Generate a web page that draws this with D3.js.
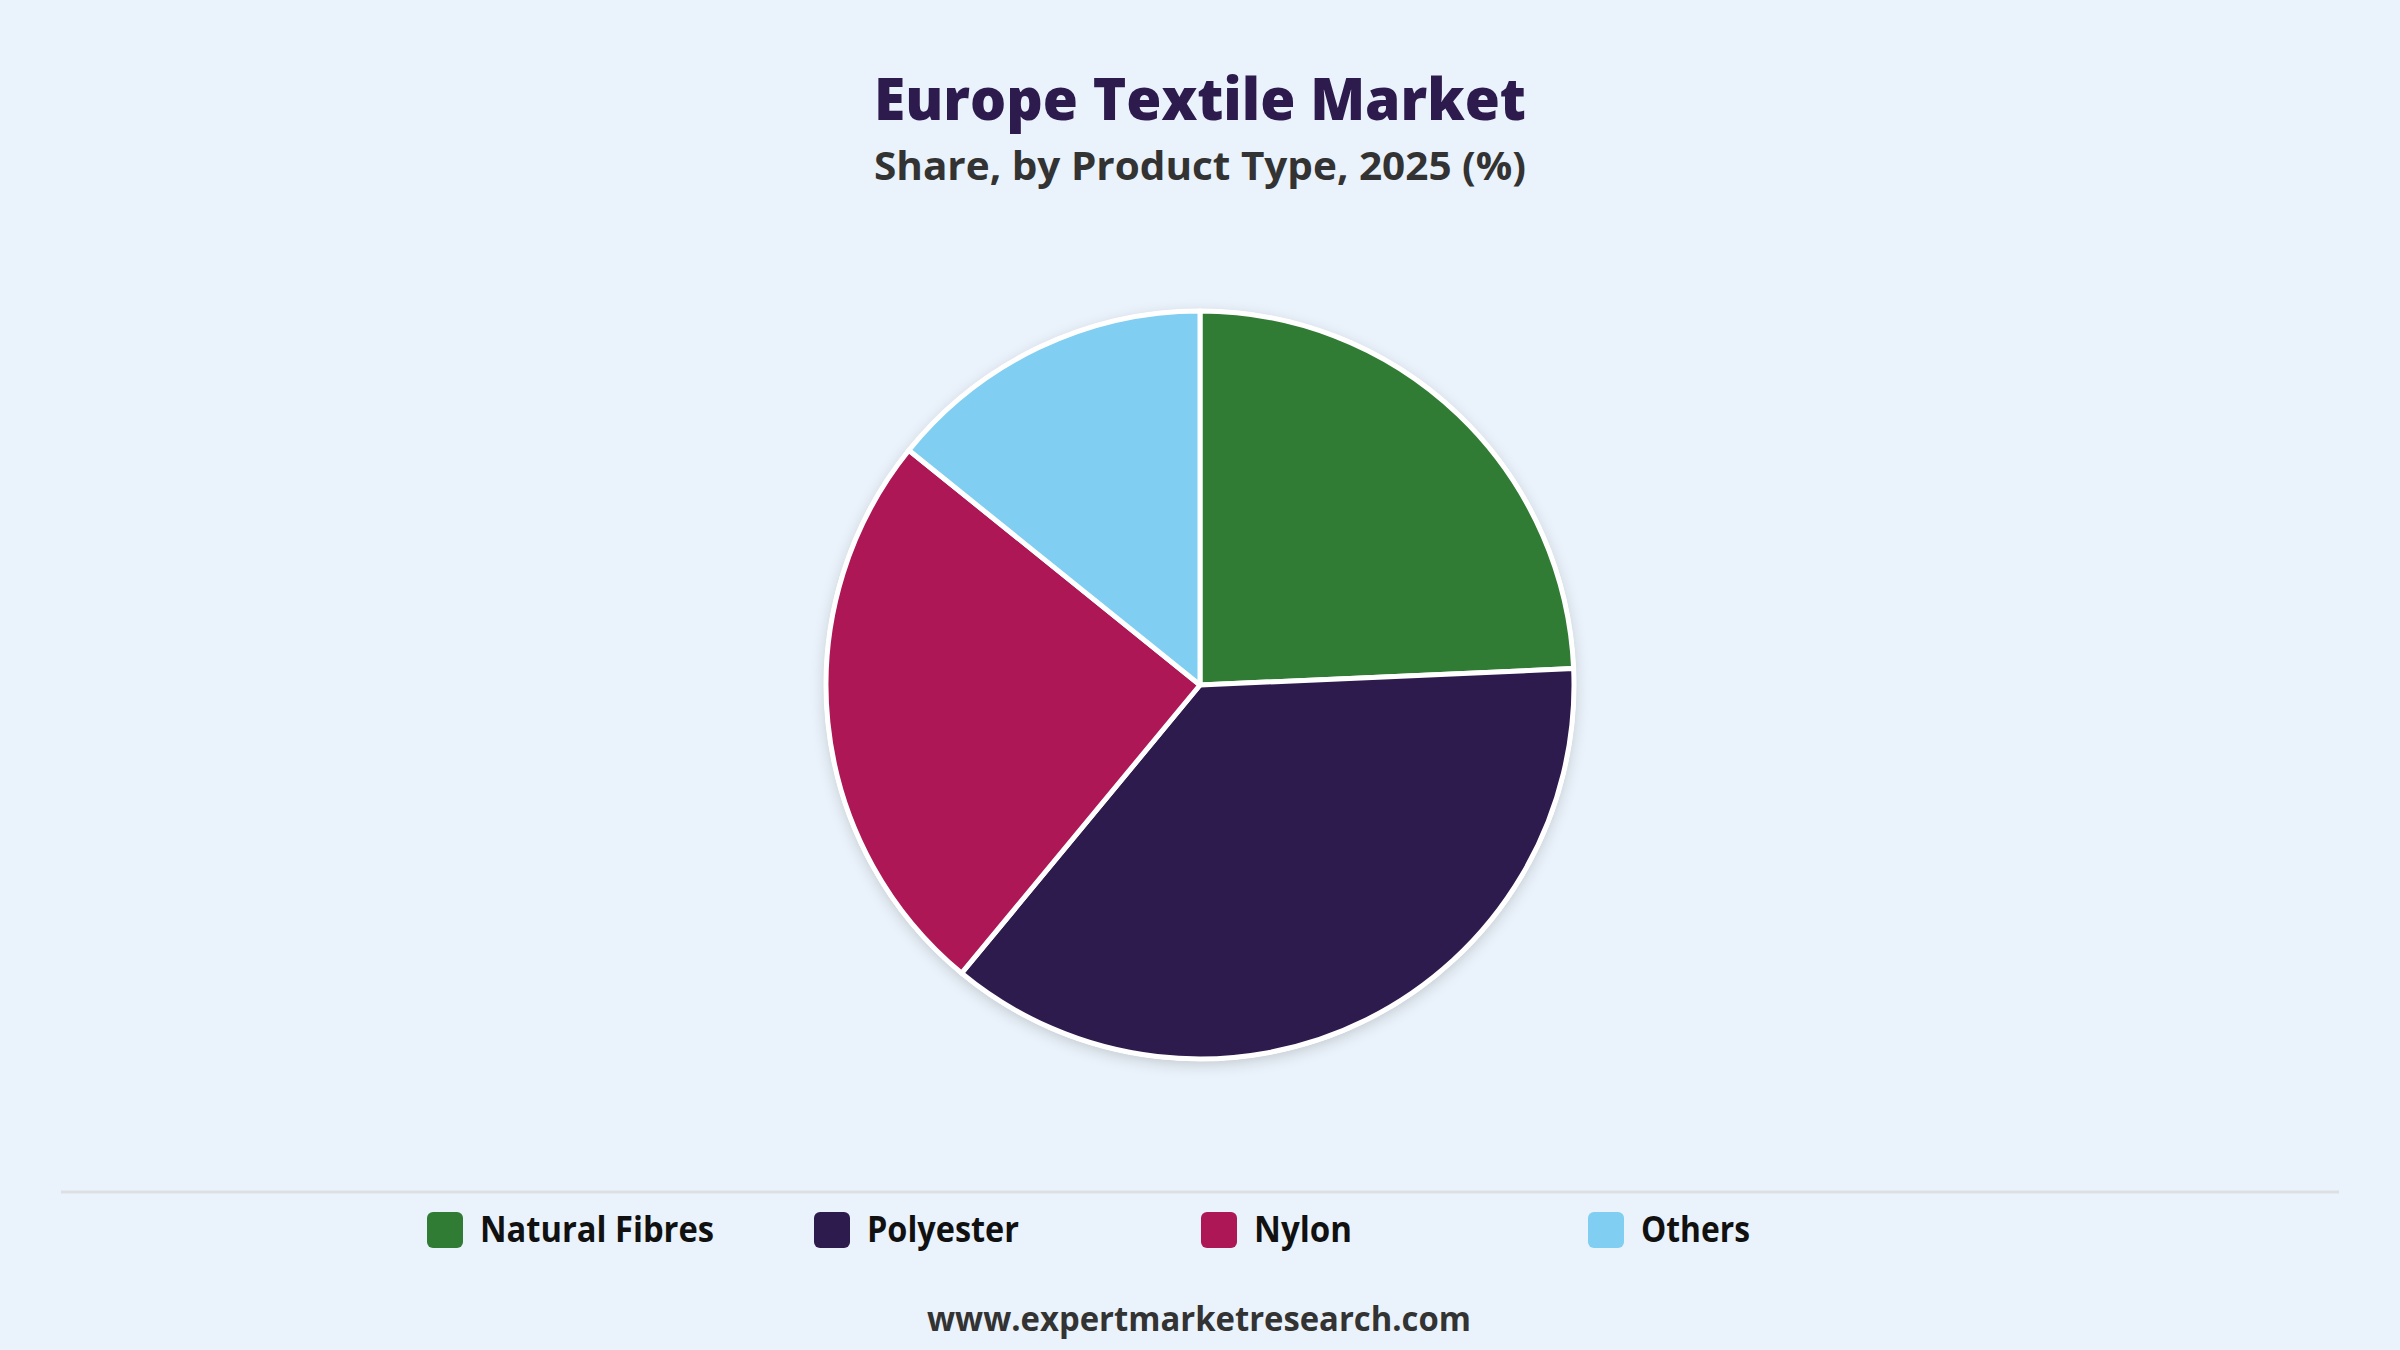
<!DOCTYPE html>
<html>
<head>
<meta charset="utf-8">
<script src="https://cdn.jsdelivr.net/npm/d3@7"></script>
<style>
  html, body { margin: 0; padding: 0; background: #eaf2fb; }
  svg { display: block; }
</style>
</head>
<body>
<svg id="chart" width="2400" height="1350"></svg>
<script>
const categories = ["Natural Fibres", "Polyester", "Nylon", "Others"];
const shares = [24.3, 36.7, 24.8, 14.2];
const colors = ["#317c35", "#2e1b4e", "#ad1755", "#80cef1"];
const titleText = "Europe Textile Market";
const subtitleText = "Share, by Product Type, 2025 (%)";
const sourceText = "www.expertmarketresearch.com";

const svg = d3.select("#chart");
const W = 2400, H = 1350;
const font = "'Open Sans', 'Noto Sans', sans-serif";

svg.append("rect").attr("width", W).attr("height", H).attr("fill", "#eaf2fb");

const defs = svg.append("defs");
const f = defs.append("filter").attr("id", "shadow")
  .attr("x", "-20%").attr("y", "-20%").attr("width", "140%").attr("height", "140%");
f.append("feDropShadow").attr("dx", 0).attr("dy", 4).attr("stdDeviation", 7)
  .attr("flood-color", "#000").attr("flood-opacity", 0.16);

// Titles
svg.append("text").attr("x", W / 2).attr("y", 120)
  .attr("text-anchor", "middle").attr("font-family", font)
  .attr("font-weight", 800).attr("font-size", 58).attr("fill", "#2e1b4e")
  .attr("textLength", 652).attr("lengthAdjust", "spacingAndGlyphs")
  .text(titleText);

svg.append("text").attr("x", W / 2).attr("y", 180)
  .attr("text-anchor", "middle").attr("font-family", font)
  .attr("font-weight", 700).attr("font-size", 39).attr("fill", "#333333")
  .attr("textLength", 652).attr("lengthAdjust", "spacingAndGlyphs")
  .text(subtitleText);

// Pie
const cx = 1200, cy = 685, R = 374;
const pie = d3.pie().sort(null).value(d => d)(shares);
const arc = d3.arc().innerRadius(0).outerRadius(R);
const color = d3.scaleOrdinal().domain(categories).range(colors);

const g = svg.append("g").attr("transform", `translate(${cx},${cy})`);
g.append("circle").attr("r", R + 2).attr("fill", "#ffffff").attr("filter", "url(#shadow)");
g.selectAll("path.slice").data(pie).join("path")
  .attr("class", "slice")
  .attr("d", arc)
  .attr("fill", (d, i) => color(categories[i]))
  .attr("stroke", "#ffffff").attr("stroke-width", 5).attr("stroke-linejoin", "round");

// Separator line
svg.append("line").attr("x1", 61).attr("x2", 2339).attr("y1", 1192).attr("y2", 1192)
  .attr("stroke", "#dcdfe4").attr("stroke-width", 3);

// Legend
const legendX = d3.scalePoint().domain(categories).range([427, 1588]);
const labelWidths = [234, 152, 98, 109];
const lg = svg.append("g");
const items = lg.selectAll("g.item").data(categories).join("g")
  .attr("class", "item")
  .attr("transform", d => `translate(${legendX(d)},1212)`);
items.append("rect").attr("width", 36).attr("height", 36).attr("rx", 6)
  .attr("fill", d => color(d));
items.append("text").attr("x", 53).attr("y", 30)
  .attr("font-family", font).attr("font-weight", 700).attr("font-size", 36)
  .attr("fill", "#111111")
  .attr("textLength", (d, i) => labelWidths[i]).attr("lengthAdjust", "spacingAndGlyphs")
  .text(d => d);

// Source
svg.append("text").attr("x", 1199).attr("y", 1331)
  .attr("text-anchor", "middle").attr("font-family", font)
  .attr("font-weight", 700).attr("font-size", 34).attr("fill", "#333333")
  .attr("textLength", 544).attr("lengthAdjust", "spacingAndGlyphs")
  .text(sourceText);
</script>
</body>
</html>
